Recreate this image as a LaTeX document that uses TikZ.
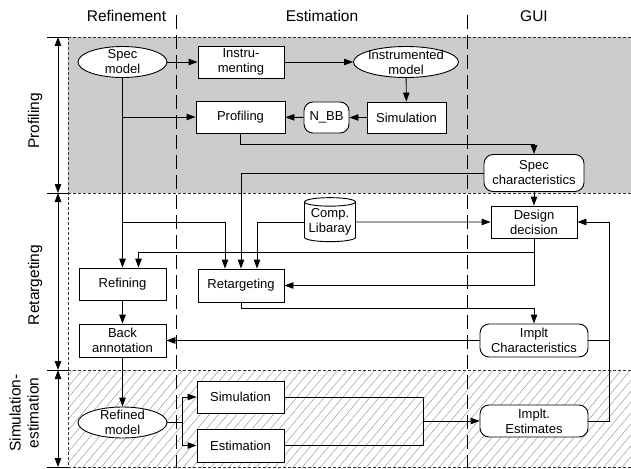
\documentclass[tikz,border=0pt]{standalone}
\usepackage{fontspec}
\setmainfont{Liberation Sans}
\usetikzlibrary{arrows.meta, shapes.geometric, patterns.meta}
\tikzset{box/.style={draw, fill=white, minimum width=87pt, minimum height=32pt, inner sep=0pt, align=center}}
\tikzset{roundbox/.style={box, rounded corners=9pt}}
\tikzset{ellbox/.style={draw, fill=white, ellipse, minimum width=89pt, minimum height=31pt, inner sep=0pt}}
\tikzset{libbox/.style={draw, fill=white, cylinder, shape border rotate=90, aspect=0.2, minimum width=51pt, minimum height=44pt, inner sep=0pt, align=center}}
\tikzset{txt/.style={align=center, inner sep=0pt}}
\tikzset{head/.style={font=\fontsize{15.5}{18}\selectfont}}
\tikzset{flow/.style={-{Triangle[length=9pt,width=6.5pt]}}}
\tikzset{span/.style={{Triangle[length=9pt,width=6.5pt]}-{Triangle[length=9pt,width=6.5pt]}}}
\tikzset{band/.style={line width=0.8pt, draw=black!80, dash pattern=on 3pt off 2pt}}
\tikzset{column/.style={dash pattern=on 14pt off 6pt}}

\begin{document}
\begin{tikzpicture}[x=1pt, y=-1pt, line width=0.9pt, font=\fontsize{13}{15}\selectfont] % pixel coordinates, y going down
  \useasboundingbox (0,0) rectangle (631,468);

  % lanes
  \fill[black!20] (68,37) rectangle (631,193);
  \fill[pattern={Lines[angle=50,distance=7pt,line width=0.4pt]}, pattern color=black!45] (68,370) rectangle (631,467);
  \foreach \y in {37,193,370,467} {
    \draw[band] (68,\y) -- (631,\y);
    \draw (47,\y) -- (68,\y);
  }
  \draw[band] (68,37) -- (68,467);
  \draw[span] (58,37) -- (58,193);
  \draw[span] (58,193) -- (58,370);
  \draw[span] (58,370) -- (58,467);
  \draw[column] (176,15) -- (176,468);
  \draw[column] (467,15) -- (467,468);

  \node[head] (hrefine) at (126.5,16) {Refinement};
  \node[head] (hestim) at (322,16) {Estimation};
  \node[head] (hgui) at (534,16) {GUI};
  \node[head, rotate=90] (lprof) at (35,121) {Profiling};
  \node[head, rotate=90] (lretarg) at (35,285) {Retargeting};
  \node[head, rotate=90, align=center] (lsim) at (24,413) {Simulation-\\estimation};

  % profiling
  \node[ellbox] (spec) at (122.5,62) {};
  \node[txt] (spec-t) at (spec) {Spec\\model};
  \node[box, minimum width=86pt] (instr) at (241,62) {Instru-\\menting};
  \node[ellbox, minimum width=105pt] (instm) at (406,62) {};
  \node[txt] (instm-t) at (instm) {Instrumented\\model};
  \node[box, minimum width=89pt] (prof) at (240.5,117) {Profiling};
  \node[roundbox, minimum width=45pt, minimum height=31pt] (nbb) at (326.5,117.5) {N\_BB};
  \node[box, minimum width=79pt, minimum height=31pt] (simtop) at (406.5,117.5) {Simulation};
  \node[roundbox, minimum width=100pt, minimum height=37pt] (specch) at (534,173) {Spec\\characteristics};

  % retargeting
  \node[libbox] (lib) at (330,222) {Comp.\\Libaray};
  \node[box, minimum width=86pt] (design) at (534,222) {Design\\decision};
  \node[box] (refin) at (122.5,284) {Refining};
  \node[box, minimum width=86pt, minimum height=33pt] (retarg) at (241,285.5) {Retargeting};
  \node[box, minimum height=33pt] (back) at (122.5,340.5) {Back\\annotation};
  \node[roundbox, minimum width=108pt, minimum height=33pt] (implch) at (534,340.5) {Implt\\Characteristics};

  % simulation-estimation
  \node[ellbox] (refmod) at (122.5,422.5) {};
  \node[txt] (refmod-t) at (refmod) {Refined\\model};
  \node[box] (simbot) at (240.5,397) {Simulation};
  \node[box, minimum height=33pt] (estim) at (240.5,445.5) {Estimation};
  \node[roundbox, minimum width=108pt] (implest) at (534,421) {Implt.\\Estimates};

  \draw[flow] (spec) -- (instr);
  \draw[flow] (instr) -- (instm);
  \draw[flow] (instm) -- (simtop);
  \draw[flow] (simtop) -- (nbb);
  \draw[flow] (nbb) -- (prof);
  \draw[flow] (spec.south) -- (refin.north);
  \draw[flow] (spec.south |- prof) -- (prof.west);
  \draw[flow] (spec.south |- lib) -| ([xshift=-16pt]retarg.north);
  \draw[flow] (prof.south) -- ++(0,11) -| (specch.north);
  \draw[flow] (specch.west) -| (retarg.north);
  \draw[flow] (specch.south) -- (design.north);
  \draw[flow] (lib.west) -| ([xshift=16pt]retarg.north);
  \draw[flow] (lib.east) -- (design.west);
  \draw[flow] (design.south) |- (retarg.east);
  \draw[flow] ([yshift=-14pt]design.south) -| ([xshift=16pt]refin.north);
  \draw[flow] (retarg.south) -- ++(0,6) -| (implch.north);
  \draw[flow] (refin) -- (back);
  \draw[flow] (implch.west) -- (back.east);
  \draw (implch.east) -- ++(21,0);
  \draw[flow] (implest.east) -- ++(21,0) |- (design.east);
  \draw[flow] (back) -- (refmod);
  \draw (refmod.east) -- ++(15,0) coordinate (fork);
  \draw[flow] (fork) |- (simbot.west);
  \draw[flow] (fork) |- (estim.west);
  \draw (simbot.east) -- ++(139,0) coordinate (join) |- (estim.east);
  \draw[flow] (join |- implest.west) -- (implest.west);
\end{tikzpicture}
\end{document}
